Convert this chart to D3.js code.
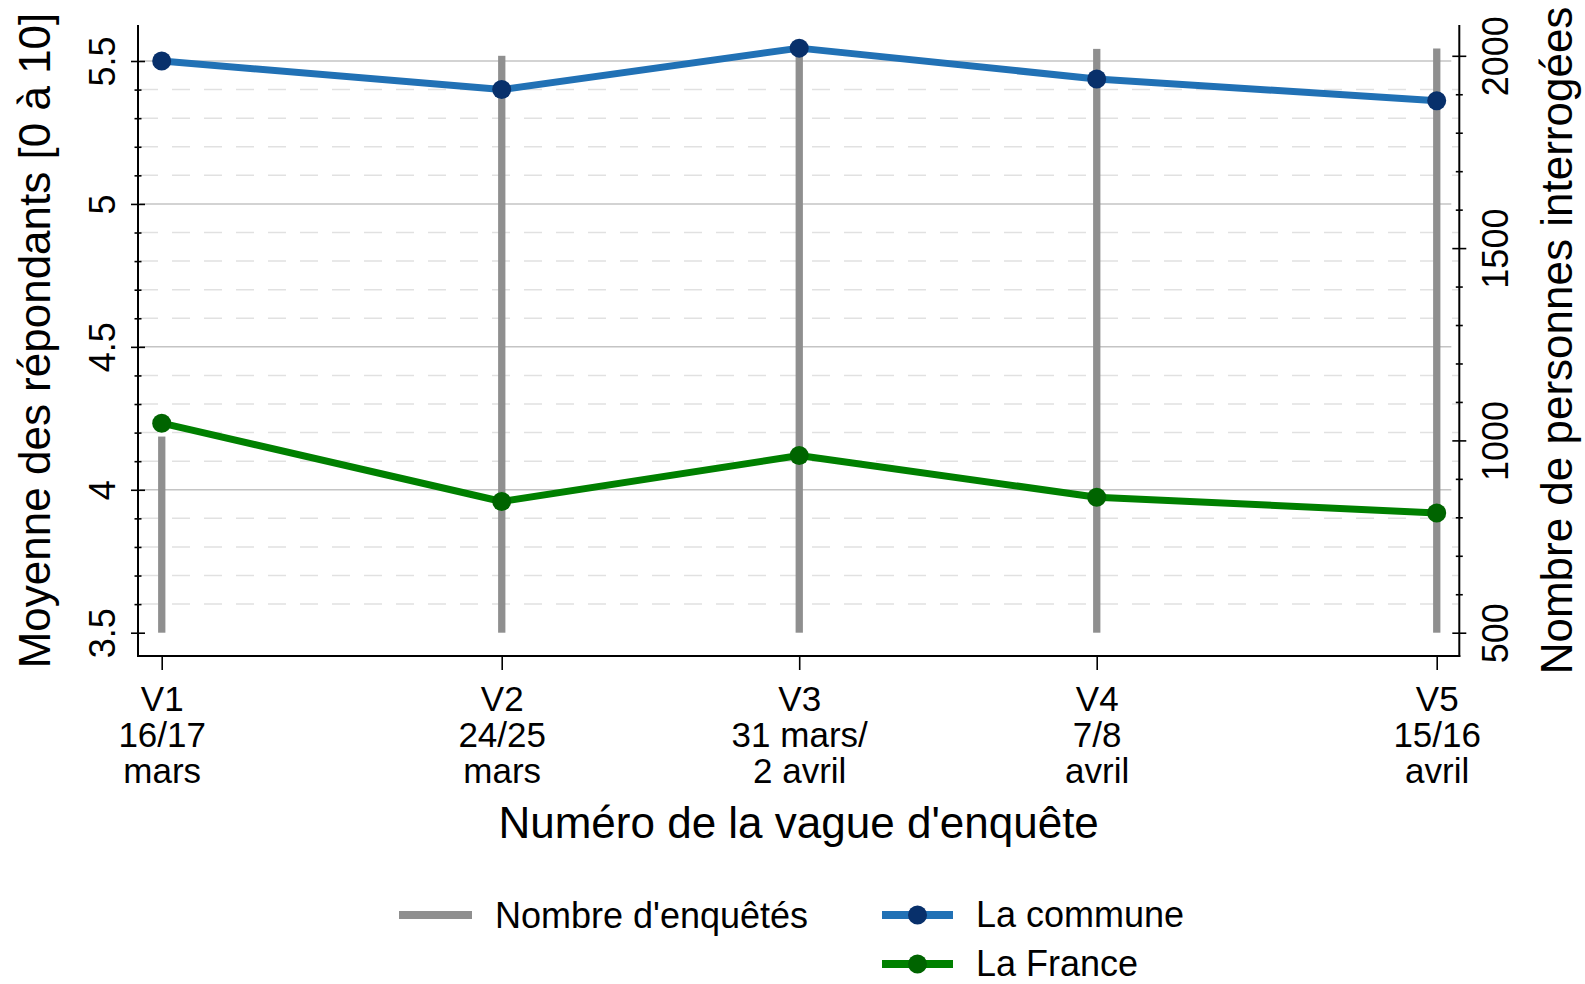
<!DOCTYPE html>
<html>
<head>
<meta charset="utf-8">
<script src="https://cdn.jsdelivr.net/npm/d3@7"></script>
<style>
  body { margin: 0; background: #fff; }
  text { font-family: "Liberation Sans", Arial, Helvetica, sans-serif; fill: #000; }
</style>
</head>
<body>
<svg class="chart" width="1585" height="984"></svg>
<script>
// waves of the survey, positioned by day (counted from 1 March)
const waves = ['V1', 'V2', 'V3', 'V4', 'V5'];
const waveDates = [['16/17', 'mars'], ['24/25', 'mars'], ['31 mars/', '2 avril'], ['7/8', 'avril'], ['15/16', 'avril']];
const waveDays = [16, 24, 31, 38, 46];

const nbEnquetes = [1010, 2000, 2015, 2018, 2019];
const laCommune = [5.50, 5.40, 5.545, 5.437, 5.361];
const laFrance = [4.233, 3.959, 4.120, 3.974, 3.919];

const leftTicks = [3.5, 4, 4.5, 5, 5.5];
const leftMinor = d3.range(36, 55).filter(v => v % 5 !== 0).map(v => v / 10);
const rightTicks = [500, 1000, 1500, 2000];
const rightMinor = d3.range(6, 20).filter(v => v % 5 !== 0).map(v => v * 100);

const plot = { left: 138, right: 1459.3, top: 25, bottom: 656 };

const x = d3.scaleLinear().domain([16, 46]).range([161.7, 1436.7]);
const yL = d3.scaleLinear().domain([3.5, 5.5]).range([632.7, 61]);
const yR = d3.scaleLinear().domain([500, 2000]).range([632.7, 55.8]);

const svg = d3.select('.chart');

// grid
const grid = svg.append('g').attr('class', 'grid');
grid.selectAll('.grid__minor')
  .data(leftMinor)
  .enter()
  .append('line')
  .attr('x1', plot.left + 2).attr('x2', plot.right - 1)
  .attr('y1', d => yL(d)).attr('y2', d => yL(d))
  .attr('stroke', '#e1e1e1').attr('stroke-width', 1.5)
  .attr('stroke-dasharray', '18,14');
grid.selectAll('.grid__major')
  .data(leftTicks.filter(d => d > 3.5))
  .enter()
  .append('line')
  .attr('x1', plot.left + 2).attr('x2', plot.right - 8)
  .attr('y1', d => yL(d)).attr('y2', d => yL(d))
  .attr('stroke', '#c4c4c4').attr('stroke-width', 1.5);

// bars: number of respondents
svg.append('g')
  .attr('class', 'bars')
  .selectAll('rect')
  .data(nbEnquetes)
  .enter()
  .append('rect')
  .attr('x', (d, i) => x(waveDays[i]) - 3.6)
  .attr('width', 7.3)
  .attr('y', d => yR(d))
  .attr('height', d => yR(500) - yR(d))
  .attr('fill', '#8f8f8f');

function drawSeries(values, lineColor, dotColor) {
  const line = d3.line()
    .x((d, i) => x(waveDays[i]))
    .y(d => yL(d));
  const g = svg.append('g');
  g.append('path')
    .datum(values)
    .attr('fill', 'none')
    .attr('stroke', lineColor)
    .attr('stroke-width', 7)
    .attr('stroke-linejoin', 'round')
    .attr('d', line);
  g.selectAll('circle')
    .data(values)
    .enter()
    .append('circle')
    .attr('cx', (d, i) => x(waveDays[i]))
    .attr('cy', d => yL(d))
    .attr('r', 9.5)
    .attr('fill', dotColor);
}
drawSeries(laCommune, '#2171b5', '#08306b');
drawSeries(laFrance, '#008000', '#006400');

// frame
const frame = svg.append('g').attr('stroke', '#000').attr('stroke-width', 2);
frame.append('line').attr('x1', plot.left).attr('x2', plot.left).attr('y1', plot.top).attr('y2', plot.bottom + 1);
frame.append('line').attr('x1', plot.right).attr('x2', plot.right).attr('y1', plot.top).attr('y2', plot.bottom + 1);
frame.append('line').attr('x1', plot.left - 1).attr('x2', plot.right + 1).attr('y1', plot.bottom).attr('y2', plot.bottom);

function tickPair(g, scale, values, size) {
  g.append('g').call(d3.axisLeft(scale).tickValues(values).tickSize(size).tickSizeOuter(0).tickFormat(''));
  g.append('g').call(d3.axisRight(scale).tickValues(values).tickSize(size).tickSizeOuter(0).tickFormat(''));
}

// left axis
const leftAxis = svg.append('g').attr('transform', `translate(${plot.left}, 0)`);
tickPair(leftAxis, yL, leftTicks, 7);
tickPair(leftAxis, yL, leftMinor, 3.5);
const leftLabels = leftAxis.append('g')
  .call(d3.axisLeft(yL).tickValues(leftTicks).tickSize(0).tickFormat(d3.format('')));
leftLabels.selectAll('text')
  .attr('x', 0).attr('y', 0).attr('dy', 0)
  .attr('text-anchor', 'middle')
  .attr('transform', 'translate(-23, 0) rotate(-90)')
  .style('font-size', '36px');

// right axis
const rightAxis = svg.append('g').attr('transform', `translate(${plot.right}, 0)`);
tickPair(rightAxis, yR, rightTicks, 7);
tickPair(rightAxis, yR, rightMinor, 3.5);
const rightLabels = rightAxis.append('g')
  .call(d3.axisRight(yR).tickValues(rightTicks).tickSize(0).tickFormat(d3.format('d')));
rightLabels.selectAll('text')
  .attr('x', 0).attr('y', 0).attr('dy', 0)
  .attr('text-anchor', 'middle')
  .attr('transform', 'translate(49, 0) rotate(-90)')
  .style('font-size', '36px');

svg.selectAll('.domain').remove();
svg.selectAll('.tick line').attr('stroke', '#000').attr('stroke-width', 1.6);

// bottom axis
const bottomAxis = svg.append('g')
  .attr('transform', `translate(0, ${plot.bottom})`)
  .call(d3.axisBottom(x).tickValues(waveDays).tickSize(14).tickFormat(''));
bottomAxis.select('.domain').remove();
bottomAxis.selectAll('.tick line').attr('stroke', '#000').attr('stroke-width', 1.6);
bottomAxis.selectAll('.tick')
  .append('text')
  .attr('text-anchor', 'middle')
  .style('font-size', '35px')
  .selectAll('tspan')
  .data((d, i) => [waves[i]].concat(waveDates[i]))
  .enter()
  .append('tspan')
  .attr('x', 0)
  .attr('y', (d, i) => 54.6 + i * 36.4)
  .text(d => d);

// axis titles
svg.append('text')
  .attr('transform', `translate(50, ${(plot.top + plot.bottom) / 2}) rotate(-90)`)
  .attr('text-anchor', 'middle')
  .style('font-size', '44px')
  .text('Moyenne des répondants [0 à 10]');

svg.append('text')
  .attr('transform', `translate(1572, ${(plot.top + plot.bottom) / 2}) rotate(-90)`)
  .attr('text-anchor', 'middle')
  .style('font-size', '44px')
  .text('Nombre de personnes interrogées');

svg.append('text')
  .attr('x', (plot.left + plot.right) / 2)
  .attr('y', 838)
  .attr('text-anchor', 'middle')
  .style('font-size', '44px')
  .text('Numéro de la vague d\'enquête');

// legend
const legend = svg.append('g').attr('class', 'legend');
legend.append('line')
  .attr('x1', 399).attr('x2', 472).attr('y1', 915).attr('y2', 915)
  .attr('stroke', '#8f8f8f').attr('stroke-width', 8);
legend.append('text').attr('x', 495).attr('y', 928).style('font-size', '36px').text('Nombre d\'enquêtés');

const legendSeries = [
  { label: 'La commune', line: '#2171b5', dot: '#08306b', y: 915 },
  { label: 'La France', line: '#008000', dot: '#006400', y: 964 },
];
const items = legend.selectAll('.legend__item')
  .data(legendSeries)
  .enter()
  .append('g')
  .attr('class', 'legend__item');
items.append('line')
  .attr('x1', 882).attr('x2', 953)
  .attr('y1', d => d.y).attr('y2', d => d.y)
  .attr('stroke', d => d.line).attr('stroke-width', 8);
items.append('circle')
  .attr('cx', 917.5).attr('cy', d => d.y).attr('r', 9.5)
  .attr('fill', d => d.dot);
items.append('text')
  .attr('x', 976).attr('y', d => d.y + 12)
  .style('font-size', '36px')
  .text(d => d.label);
</script>
</body>
</html>
